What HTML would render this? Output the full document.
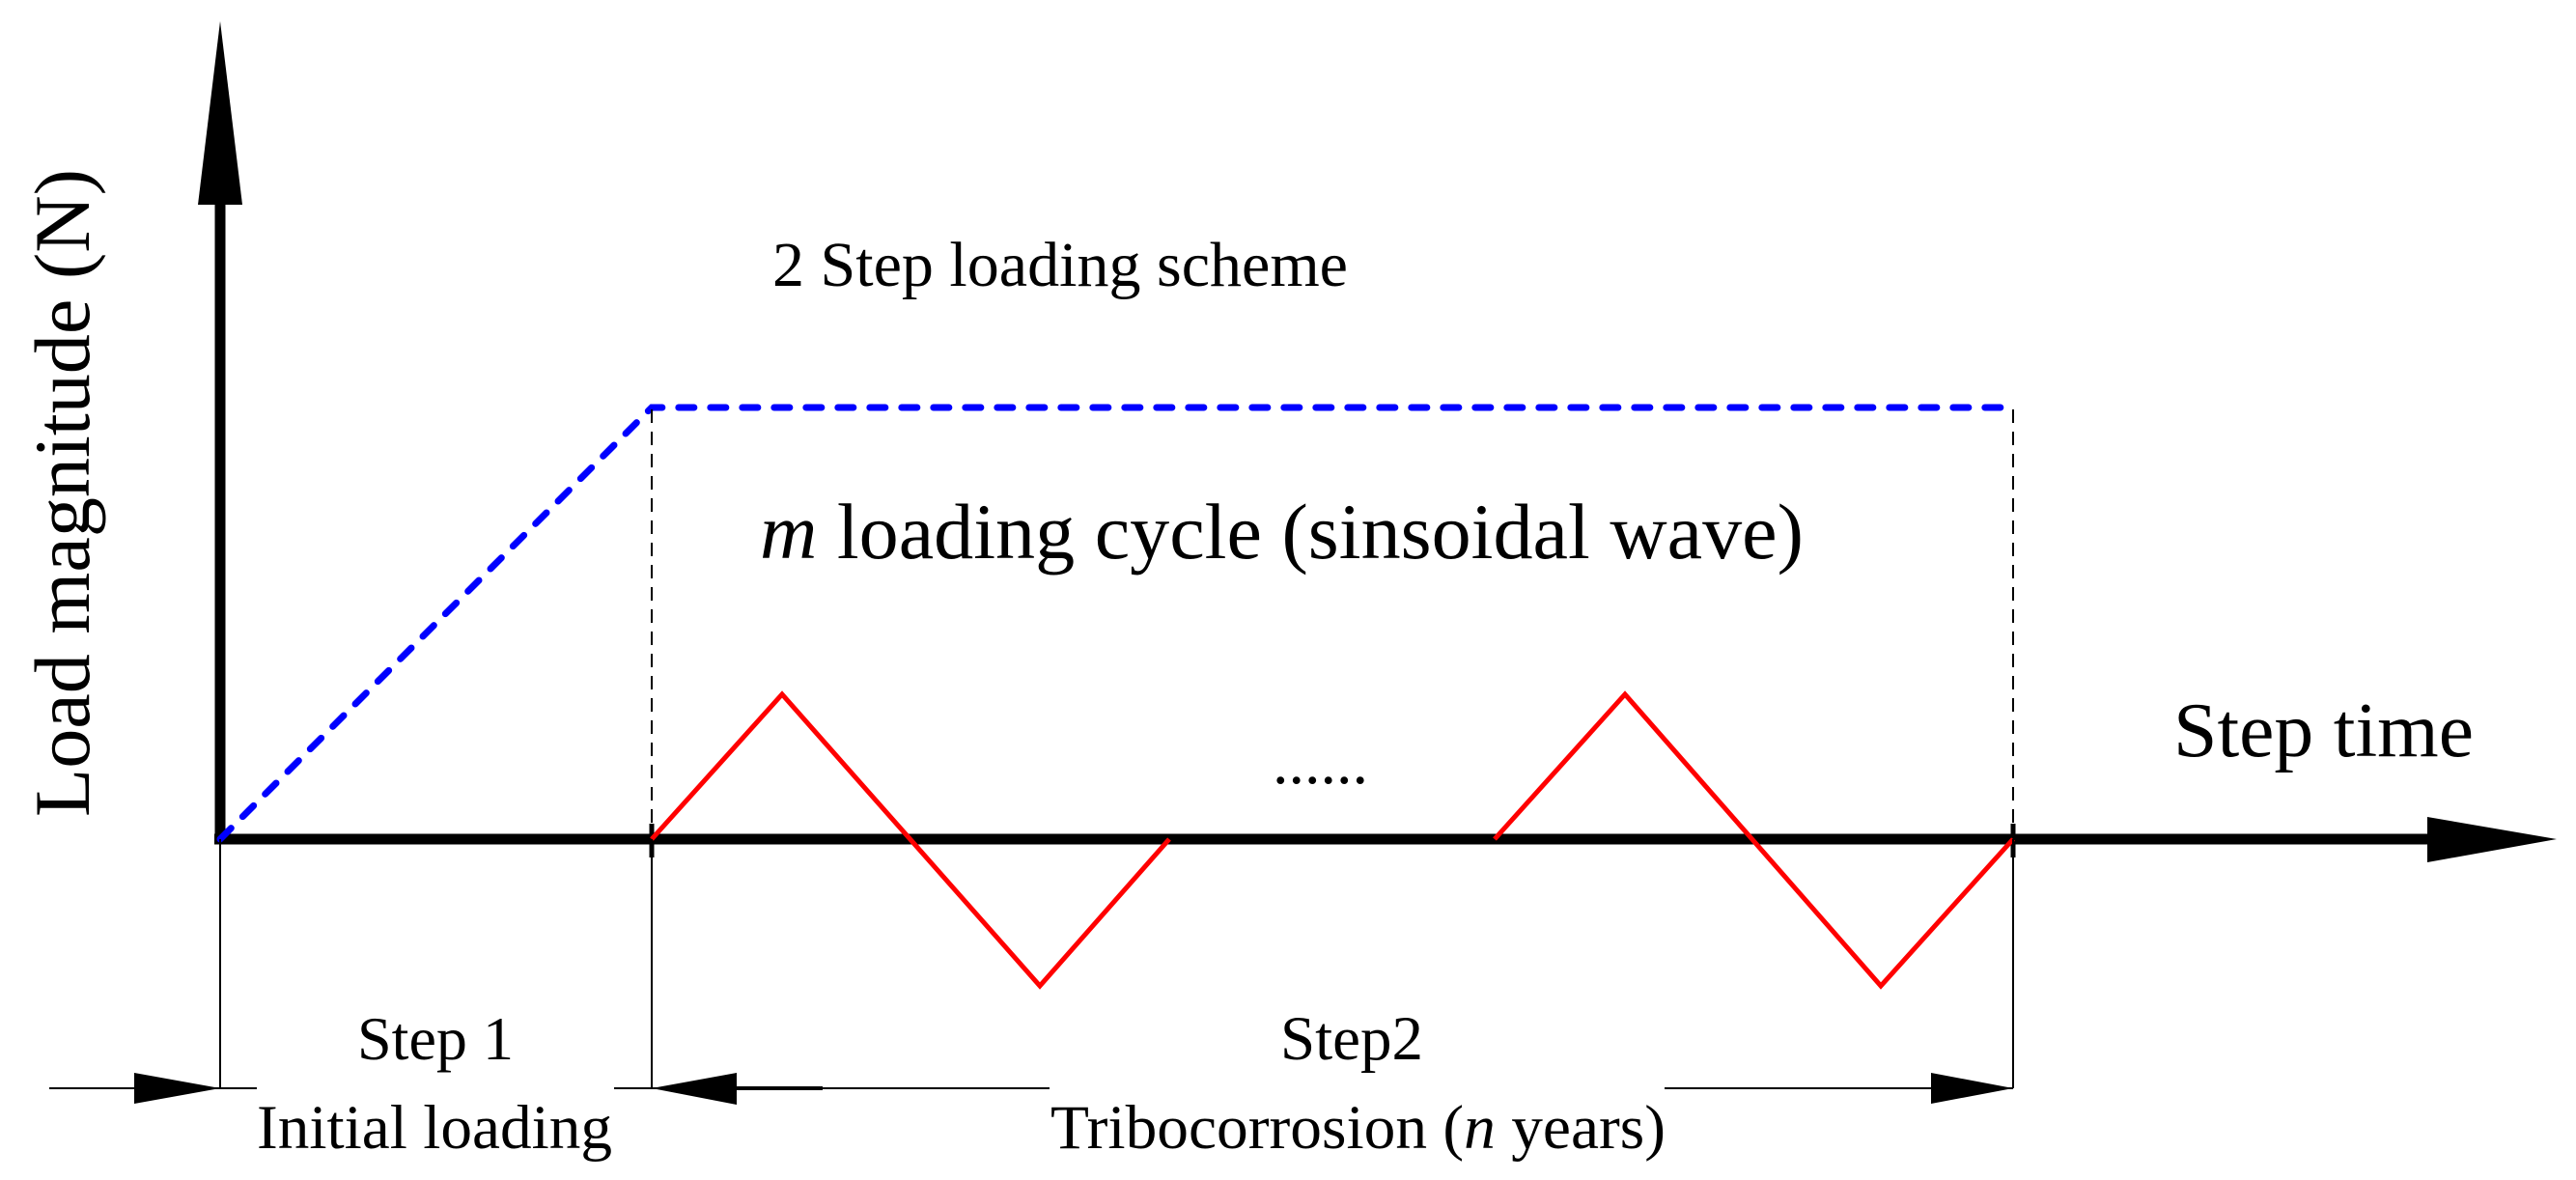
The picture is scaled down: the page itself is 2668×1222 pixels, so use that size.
<!DOCTYPE html>
<html><head><meta charset="utf-8"><style>
html,body{margin:0;padding:0;background:#fff;}
svg{display:block;}
text{font-family:"Liberation Serif","Times New Roman",serif;fill:#000;}
</style></head><body>
<svg width="2668" height="1222" viewBox="0 0 2668 1222" xmlns="http://www.w3.org/2000/svg">
<!-- axes -->
<line x1="228" y1="869" x2="228" y2="200" stroke="#000" stroke-width="11"/>
<polygon points="228,22 205,212 251,212" fill="#000"/>
<line x1="222" y1="869" x2="2520" y2="869" stroke="#000" stroke-width="11"/>
<polygon points="2648,869 2514,846 2514,893" fill="#000"/>
<!-- blue dashed -->
<polyline points="228,869 675,422 2085,422" fill="none" stroke="#0000ff" stroke-width="7" stroke-dasharray="16 17" stroke-linecap="round"/>
<!-- black dashed verticals -->
<line x1="675" y1="424" x2="675" y2="862" stroke="#000" stroke-width="2" stroke-dasharray="14 9"/>
<line x1="2085" y1="424" x2="2085" y2="862" stroke="#000" stroke-width="2" stroke-dasharray="14 9"/>
<!-- ticks -->
<line x1="675" y1="853" x2="675" y2="888" stroke="#000" stroke-width="5"/>
<line x1="2085" y1="853" x2="2085" y2="888" stroke="#000" stroke-width="5"/>
<!-- red waves -->
<polyline points="675,869 810,719 1077,1021 1211,869" fill="none" stroke="#ff0000" stroke-width="5"/>
<polyline points="1548,869 1683,719 1948,1021 2085,869" fill="none" stroke="#ff0000" stroke-width="5"/>
<!-- dimension lines -->
<line x1="228" y1="869" x2="228" y2="1127" stroke="#000" stroke-width="2"/>
<line x1="675" y1="869" x2="675" y2="1127" stroke="#000" stroke-width="2"/>
<line x1="2085" y1="869" x2="2085" y2="1127" stroke="#000" stroke-width="2"/>
<line x1="51" y1="1127" x2="266" y2="1127" stroke="#000" stroke-width="2"/>
<polygon points="228,1127 139,1111 139,1143" fill="#000"/>
<line x1="636" y1="1127" x2="1087" y2="1127" stroke="#000" stroke-width="2"/>
<line x1="740" y1="1127" x2="852" y2="1127" stroke="#000" stroke-width="4"/>
<polygon points="675,1127 763,1111 763,1144" fill="#000"/>
<line x1="1724" y1="1127" x2="2085" y2="1127" stroke="#000" stroke-width="2"/>
<polygon points="2085,1127 2000,1111 2000,1143" fill="#000"/>
<!-- texts -->
<text x="0" y="0" font-size="82" transform="translate(92,846) rotate(-90)" textLength="671" lengthAdjust="spacingAndGlyphs">Load magnitude (N)</text>
<text x="800" y="296" font-size="66" textLength="596" lengthAdjust="spacingAndGlyphs">2 Step loading scheme</text>
<text x="787" y="578" font-size="82" textLength="1081" lengthAdjust="spacingAndGlyphs"><tspan font-style="italic">m</tspan> loading cycle (sinsoidal wave)</text>
<text x="1318" y="811" font-size="66">......</text>
<text x="2251" y="783" font-size="80" textLength="311" lengthAdjust="spacingAndGlyphs">Step time</text>
<text x="370" y="1097" font-size="64" textLength="162" lengthAdjust="spacingAndGlyphs">Step 1</text>
<text x="266" y="1189" font-size="65" textLength="368" lengthAdjust="spacingAndGlyphs">Initial loading</text>
<text x="1326" y="1097" font-size="65" textLength="148" lengthAdjust="spacingAndGlyphs">Step2</text>
<text x="1088" y="1189" font-size="65" textLength="637" lengthAdjust="spacingAndGlyphs">Tribocorrosion (<tspan font-style="italic">n</tspan> years)</text>
</svg>
</body></html>
